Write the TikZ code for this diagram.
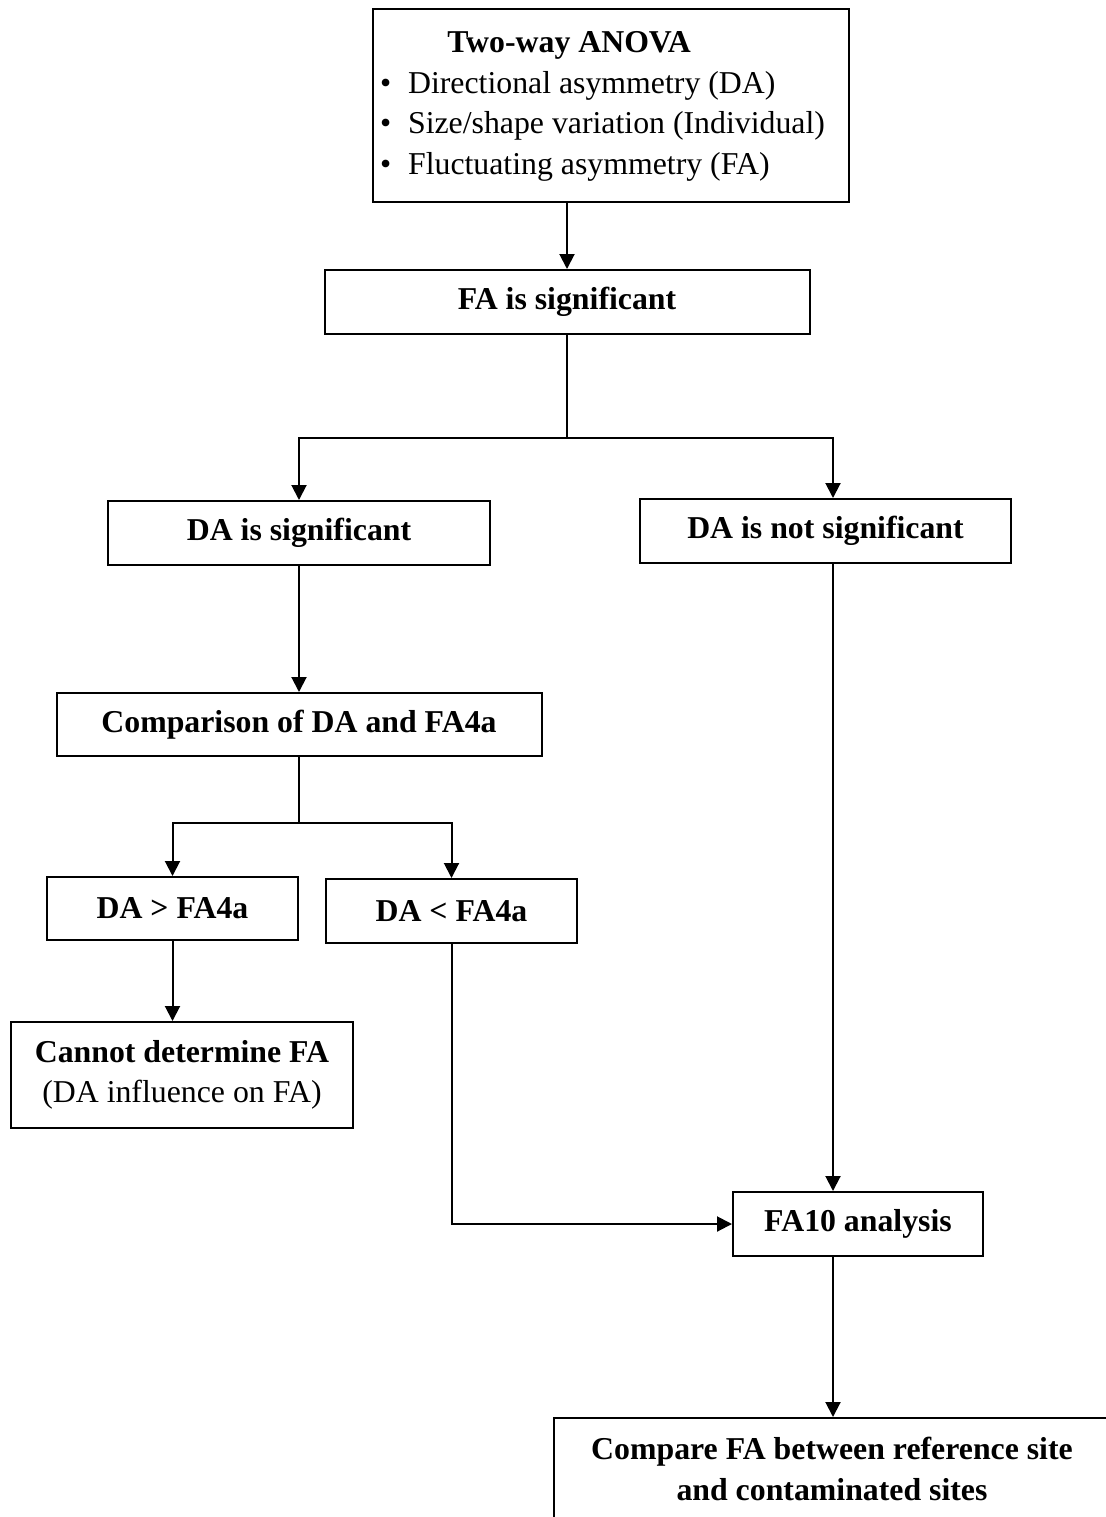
\documentclass[tikz,border=0pt]{standalone}
\usepackage{fontspec}
\setmainfont{Liberation Serif}
\usepackage{tikz}
\usetikzlibrary{arrows.meta}

\begin{document}
\begin{tikzpicture}[x=1pt, y=-1pt, inner sep=0pt, line width=2pt,
	txt/.style = {font=\fontsize{31.8}{40.5}\selectfont},
	bold/.style = {font=\fontsize{31.8}{40.5}\selectfont\bfseries},
	block/.style = {draw, rectangle, txt, align=center, minimum height=64pt},
	arr/.style = {-{Triangle[length=15pt, width=15pt]}}]
	\useasboundingbox (0,0) rectangle (1105,1517);
	\node[block, minimum width=476pt, minimum height=193pt] (anova) at (611,105.5) {%
		\begin{tabular}{@{}p{28pt}@{}l@{\hspace{17pt}}}
			\multicolumn{2}{@{}l@{\hspace{17pt}}}{\makebox[378pt]{\bfseries Two-way ANOVA}}\\
			\textbullet & Directional asymmetry (DA)\\
			\textbullet & Size/shape variation (Individual)\\
			\textbullet & Fluctuating asymmetry (FA)
		\end{tabular}};
	\node[block, bold, minimum width=485pt] (fa) at (567,302) {FA is significant};
	\node[block, bold, minimum width=382pt] (da) at (299,533) {DA is significant};
	\node[block, bold, minimum width=371pt] (nda) at (825.5,531) {DA is not significant};
	\node[block, bold, minimum width=485pt, minimum height=63pt] (cmp) at (299,724.5) {Comparison of DA and FA4a};
	\node[block, bold, minimum width=251pt, minimum height=63pt] (gt) at (172.5,908.5) {DA > FA4a};
	\node[block, bold, minimum width=251pt] (lt) at (451.5,911) {DA < FA4a};
	\node[block, minimum width=342pt, minimum height=106pt] (nofa) at (182,1075) {\textbf{Cannot determine FA}\\(DA influence on FA)};
	\node[block, bold, minimum width=250pt] (fa10) at (858,1224) {FA10 analysis};
	\node[block, bold, minimum width=556pt, minimum height=102pt, anchor=north west] (site) at (553,1417) {Compare FA between reference site\\and contaminated sites};
	\coordinate (s1) at (567,438);
	\coordinate (s2) at (299,823);
	\coordinate (col) at (833,0);
	\draw[arr] (anova.south -| fa.north) -- (fa.north);
	\draw (fa.south) -- (s1);
	\draw[arr] (s1) -| (da.north);
	\draw[arr] (s1) -| (nda.north -| col);
	\draw[arr] (da.south) -- (da.south |- cmp.north);
	\draw (cmp.south) -- (s2);
	\draw[arr] (s2) -| (gt.north);
	\draw[arr] (s2) -| (lt.north);
	\draw[arr] (gt.south) -- (nofa.north -| gt.south);
	\draw[arr] (lt.south) |- (fa10.west);
	\draw[arr] (nda.south -| col) -- (fa10.north -| col);
	\draw[arr] (fa10.south -| col) -- (site.north -| col);
\end{tikzpicture}
\end{document}
